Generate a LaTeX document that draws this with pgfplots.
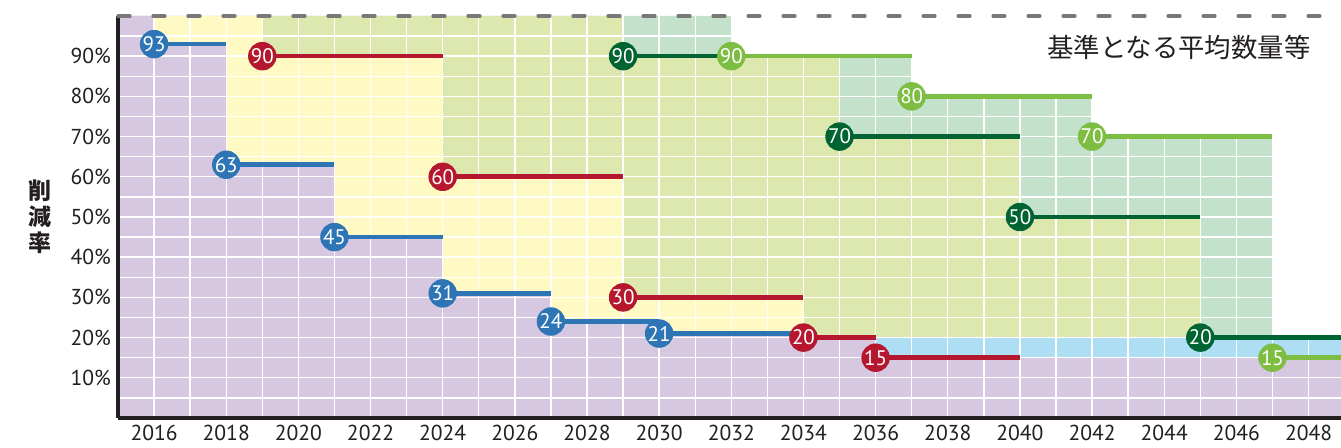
\documentclass[border=0pt]{standalone}
\usepackage{pgfplots}
\pgfplotsset{compat=1.18}
\usepackage{fontspec}
\setmainfont{PT Sans}
\newfontfamily\cjk{Noto Sans CJK JP}

\definecolor{cblue}{RGB}{46,117,182}
\definecolor{cred}{RGB}{181,23,47}
\definecolor{cdgreen}{RGB}{0,100,50}
\definecolor{clgreen}{RGB}{125,190,66}
\definecolor{fpurple}{RGB}{213,200,224}
\definecolor{fyellow}{RGB}{255,250,195}
\definecolor{fgreen}{RGB}{220,232,174}
\definecolor{fteal}{RGB}{196,225,203}
\definecolor{flblue}{RGB}{173,222,244}
\definecolor{dashgray}{RGB}{120,120,120}
\definecolor{txt}{RGB}{35,31,32}

\pgfkeys{/pgf/number format/assume math mode=true}

\pgfplotsset{
  circ/.style={only marks, mark=*, mark size=6.9pt, color=#1,
    point meta=y, nodes near coords, nodes near coords align=center,
    every node near coord/.append style={text=white, font=\fontsize{10.5}{10.5}\selectfont}},
  seg/.style={color=#1, line width=2.3pt, unbounded coords=jump},
  area/.style={on layer=axis background, fill=#1, draw=none, const plot},
}

\begin{document}
\begin{tikzpicture}
\begin{axis}[
  set layers,
  scale only axis,
  width=611.5pt, height=201pt,
  xmin=2015, xmax=2048.9,
  ymin=0, ymax=100,
  clip=false,
  axis x line*=bottom, axis y line*=left,
  axis line style={-, line width=2pt, txt},
  xtick={2016,2018,...,2048},
  minor xtick={2017,2019,...,2047},
  ytick={10,20,...,90},
  minor ytick={5,15,...,95},
  major tick length=0pt, minor tick length=0pt,
  xticklabel style={/pgf/number format/set thousands separator={}},
  yticklabel={\pgfmathprintnumber{\tick}\%},
  ticklabel style={font=\fontsize{10.8}{12}\selectfont, text=txt},
  xmajorgrids, xminorgrids, ymajorgrids, yminorgrids,
  grid style={white, line width=0.7pt},
  minor grid style={white, line width=0.7pt},
  ylabel={削\\減\\率},
  every axis y label/.style={at={(axis description cs:0,0.5)}, anchor=center,
    xshift=-39pt, align=center, text=txt,
    font=\cjk\bfseries\fontsize{11.5}{13}\selectfont},
]
% background areas
\addplot[area=fteal] coordinates {(2015,100)(2032,90)(2037,80)(2042,70)(2047,20)(2048.9,20)} \closedcycle;
\addplot[area=fgreen] coordinates {(2015,100)(2029,90)(2035,70)(2040,50)(2045,20)(2048.9,20)} \closedcycle;
\addplot[area=flblue] coordinates {(2036,20)(2048.9,20)} \closedcycle;
\addplot[area=fyellow] coordinates {(2015,100)(2019,90)(2024,60)(2029,30)(2034,20)(2036,15)(2048.9,15)} \closedcycle;
\addplot[area=fpurple] coordinates {(2015,100)(2016,93)(2018,63)(2021,45)(2024,31)(2027,24)(2030,21)(2034,20)(2036,15)(2048.9,15)} \closedcycle;

% top reference line
\addplot[dashgray, line width=1.6pt, dash pattern=on 6pt off 11.5pt, line cap=round] coordinates {(2015,100)(2048.9,100)};

% step segments
\addplot[seg=cblue] coordinates {(2016,93)(2018,93)(2018,nan)(2018,63)(2021,63)(2021,nan)(2021,45)(2024,45)(2024,nan)
  (2024,31)(2027,31)(2027,nan)(2027,24)(2030,24)(2030,nan)(2030,21)(2034,21)};
\addplot[seg=cred] coordinates {(2019,90)(2024,90)(2024,nan)(2024,60)(2029,60)(2029,nan)(2029,30)(2034,30)(2034,nan)
  (2034,20)(2036,20)(2036,nan)(2036,15)(2040,15)};
\addplot[seg=cdgreen] coordinates {(2029,90)(2032,90)(2032,nan)(2035,70)(2040,70)(2040,nan)(2040,50)(2045,50)(2045,nan)(2045,20)(2048.9,20)};
\addplot[seg=clgreen] coordinates {(2032,90)(2037,90)(2037,nan)(2037,80)(2042,80)(2042,nan)(2042,70)(2047,70)(2047,nan)(2047,15)(2048.9,15)};

% labelled circles
\addplot[circ=cblue] coordinates {(2016,93)(2018,63)(2021,45)(2024,31)(2027,24)(2030,21)};
\addplot[circ=cred] coordinates {(2019,90)(2024,60)(2029,30)(2034,20)(2036,15)};
\addplot[circ=cdgreen] coordinates {(2029,90)(2035,70)(2040,50)(2045,20)};
\addplot[circ=clgreen] coordinates {(2032,90)(2037,80)(2042,70)(2047,15)};

\node[anchor=east, font=\cjk\fontsize{13.2}{13}\selectfont, text=txt] at (axis cs:2048.25,92.3) {基準となる平均数量等};

\coordinate (bl) at (rel axis cs:0,0);
\coordinate (tr) at (rel axis cs:1,1);
\end{axis}
\pgfresetboundingbox
\path ([shift={(-59pt,-15pt)}]bl) rectangle ([shift={(0pt,8pt)}]tr);
\end{tikzpicture}
\end{document}
